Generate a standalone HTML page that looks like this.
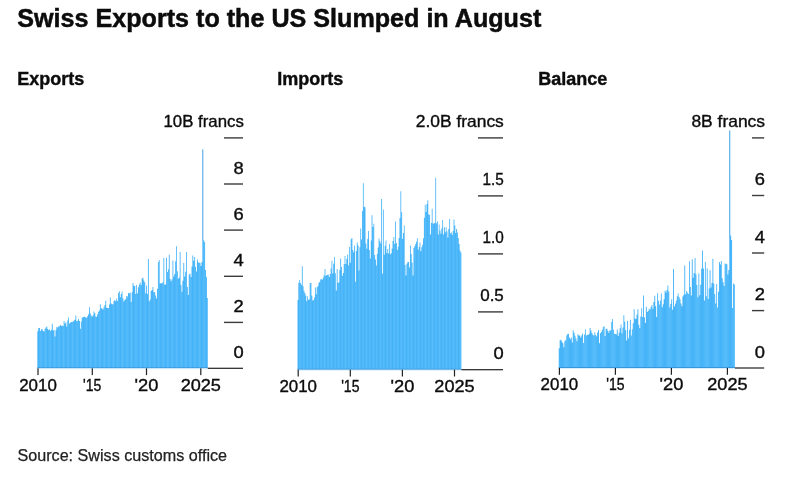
<!DOCTYPE html>
<html lang="en">
<head>
<meta charset="utf-8">
<title>Swiss Exports to the US Slumped in August</title>
<style>
html,body{margin:0;padding:0;background:#fff;}
body{width:795px;height:486px;overflow:hidden;}
svg{display:block;}
text{font-family:"Liberation Sans",Arial,Helvetica,sans-serif;fill:#0c0c0c;}
.h1{font-size:25px;font-weight:700;stroke:#0c0c0c;stroke-width:0.5px;}
.h2{font-size:18px;font-weight:700;stroke:#0c0c0c;stroke-width:0.4px;}
.lb{font-size:15.9px;stroke:#0c0c0c;stroke-width:0.35px;}
.src{font-size:16px;fill:#222;stroke:#222;stroke-width:0.25px;}
</style>
</head>
<body>
<svg width="795" height="486" viewBox="0 0 795 486">
<rect width="795" height="486" fill="#fff"/>
<text class="h1" x="17.3" y="26.8" textLength="524" lengthAdjust="spacingAndGlyphs">Swiss Exports to the US Slumped in August</text>
<g id="c1">
<text class="h2" x="17.3" y="84.6">Exports</text>
<defs><linearGradient id="gc1" gradientUnits="userSpaceOnUse" x1="38.66" y1="0" x2="43.19" y2="0" spreadMethod="repeat"><stop offset="0" stop-color="#44b2f7"/><stop offset="0.5" stop-color="#58bdfb"/><stop offset="1" stop-color="#44b2f7"/></linearGradient></defs>
<path d="M37.30,368.3V331.2H38.21V328.2H39.11V328.0H40.02V331.1H40.93V329.3H41.83V329.3H42.74V331.1H43.65V331.5H44.56V328.7H45.46V327.5H46.37V326.4H47.28V329.0H48.18V330.1H49.09V329.5H50.00V331.0H50.90V329.7H51.81V323.8H52.72V330.6H53.62V330.0H54.53V336.4H55.44V330.3H56.35V327.0H57.25V327.5H58.16V326.2H59.07V326.3H59.97V324.8H60.88V325.9H61.79V325.6H62.69V325.9H63.60V320.9H64.51V323.5H65.41V322.5H66.32V326.5H67.23V320.6H68.14V317.4H69.04V323.6H69.95V322.7H70.86V321.9H71.76V322.1H72.67V321.5H73.58V320.6H74.48V319.7H75.39V315.5H76.30V321.3H77.20V320.8H78.11V319.0H79.02V321.0H79.93V328.8H80.83V321.6H81.74V317.4H82.65V317.3H83.55V316.8H84.46V316.7H85.37V317.6H86.27V317.7H87.18V316.2H88.09V314.3H88.99V307.2H89.90V313.2H90.81V315.6H91.71V316.7H92.62V315.2H93.53V311.6H94.44V313.1H95.34V316.4H96.25V316.7H97.16V314.3H98.06V311.7H98.97V310.2H99.88V304.2H100.78V308.0H101.69V308.8H102.60V309.5H103.50V307.1H104.41V304.9H105.32V300.7H106.23V307.7H107.13V308.0H108.04V307.9H108.95V304.4H109.85V297.5H110.76V303.6H111.67V304.2H112.57V304.3H113.48V301.0H114.39V300.0H115.29V301.2H116.20V298.6H117.11V301.0H118.02V292.9H118.92V291.2H119.83V297.2H120.74V294.1H121.64V291.6H122.55V298.3H123.46V301.4H124.36V299.9H125.27V299.0H126.18V296.1H127.08V296.6H127.99V293.0H128.90V293.5H129.81V292.4H130.71V301.9H131.62V292.2H132.53V283.0H133.43V285.7H134.34V286.1H135.25V294.0H136.15V284.9H137.06V293.3H137.97V287.3H138.87V284.2H139.78V282.5H140.69V284.9H141.60V278.4H142.50V277.8H143.41V280.5H144.32V282.3H145.22V293.2H146.13V285.5H147.04V294.1H147.94V259.0H148.85V301.2H149.76V299.5H150.66V291.0H151.57V289.9H152.48V287.0H153.39V291.9H154.29V292.3H155.20V295.4H156.11V298.5H157.01V288.7H157.92V261.9H158.83V259.9H159.73V283.5H160.64V282.9H161.55V283.6H162.45V282.2H163.36V258.0H164.27V284.7H165.17V284.6H166.08V257.8H166.99V272.0H167.90V269.3H168.80V254.8H169.71V279.0H170.62V281.2H171.52V279.5H172.43V260.4H173.34V276.4H174.24V273.9H175.15V261.3H176.06V246.2H176.96V271.3H177.87V278.8H178.78V277.5H179.69V252.1H180.59V285.1H181.50V291.7H182.41V280.7H183.31V262.9H184.22V276.4H185.13V271.8H186.03V252.0H186.94V286.9H187.85V294.9H188.75V274.5H189.66V273.6H190.57V277.1H191.48V266.6H192.38V255.5H193.29V260.7H194.20V257.1H195.10V266.8H196.01V271.6H196.92V259.5H197.82V262.5H198.73V262.6H199.64V262.9H200.54V265.9H201.45V262.0H202.36V149.4H203.27V240.3H204.17V242.0H205.08V270.0H205.99V277.0H206.89V298.0H207.80V368.3Z" fill="url(#gc1)"/>
<rect x="202.46" y="149.4" width="0.71" height="90.9" fill="#4c94cc" opacity="0.55"/>
<rect x="37.3" y="367.4" width="170.5" height="0.9" fill="#3792d8"/>
<rect x="37.3" y="368.3" width="170.5" height="1" fill="#d9eefc"/>
<rect x="224" y="137.2" width="19.0" height="1.4" fill="#3c3c3c"/>
<text class="lb" x="243.8" y="127.4" text-anchor="end" textLength="80.3" lengthAdjust="spacingAndGlyphs">10B francs</text>
<rect x="224" y="183.3" width="19.0" height="1.4" fill="#3c3c3c"/>
<text class="lb" x="243.8" y="173.5" text-anchor="end" textLength="10.2" lengthAdjust="spacingAndGlyphs">8</text>
<rect x="224" y="229.4" width="19.0" height="1.4" fill="#3c3c3c"/>
<text class="lb" x="243.8" y="219.6" text-anchor="end" textLength="10.2" lengthAdjust="spacingAndGlyphs">6</text>
<rect x="224" y="275.6" width="19.0" height="1.4" fill="#3c3c3c"/>
<text class="lb" x="243.8" y="265.8" text-anchor="end" textLength="10.2" lengthAdjust="spacingAndGlyphs">4</text>
<rect x="224" y="321.7" width="19.0" height="1.4" fill="#3c3c3c"/>
<text class="lb" x="243.8" y="311.9" text-anchor="end" textLength="10.2" lengthAdjust="spacingAndGlyphs">2</text>
<rect x="207.8" y="367.7" width="35.2" height="1.2" fill="#222"/>
<text class="lb" x="243.8" y="358.0" text-anchor="end" textLength="10.2" lengthAdjust="spacingAndGlyphs">0</text>
<rect x="37.4" y="368.3" width="1.2" height="6.8" fill="#222"/>
<text class="lb" x="38.0" y="390.6" text-anchor="middle" textLength="37.6" lengthAdjust="spacingAndGlyphs">2010</text>
<rect x="91.7" y="368.3" width="1.2" height="6.8" fill="#222"/>
<text class="lb" x="92.2" y="390.6" text-anchor="middle" textLength="18.3" lengthAdjust="spacingAndGlyphs">'15</text>
<rect x="145.9" y="368.3" width="1.2" height="6.8" fill="#222"/>
<text class="lb" x="146.5" y="390.6" text-anchor="middle" textLength="23.8" lengthAdjust="spacingAndGlyphs">'20</text>
<rect x="200.2" y="368.3" width="1.2" height="6.8" fill="#222"/>
<text class="lb" x="200.8" y="390.6" text-anchor="middle" textLength="40.3" lengthAdjust="spacingAndGlyphs">2025</text>
</g>
<g id="c2">
<text class="h2" x="277.3" y="84.6">Imports</text>
<defs><linearGradient id="gc2" gradientUnits="userSpaceOnUse" x1="298.55" y1="0" x2="302.03" y2="0" spreadMethod="repeat"><stop offset="0" stop-color="#44b2f7"/><stop offset="0.5" stop-color="#58bdfb"/><stop offset="1" stop-color="#44b2f7"/></linearGradient></defs>
<path d="M297.50,369.7V300.1H298.37V282.8H299.24V280.1H300.12V283.1H300.99V284.7H301.86V266.3H302.73V286.2H303.60V290.7H304.47V293.1H305.35V295.6H306.22V301.3H307.09V296.2H307.96V299.7H308.83V299.4H309.71V282.9H310.58V282.9H311.45V295.5H312.32V300.6H313.19V300.0H314.06V297.6H314.94V287.4H315.81V294.3H316.68V287.3H317.55V286.1H318.42V282.9H319.30V281.8H320.17V279.6H321.04V279.0H321.91V279.8H322.78V277.7H323.65V275.2H324.53V269.1H325.40V276.0H326.27V275.0H327.14V274.7H328.01V274.7H328.89V277.1H329.76V273.9H330.63V268.5H331.50V260.8H332.37V273.4H333.24V263.7H334.12V256.9H334.99V273.2H335.86V290.5H336.73V269.0H337.60V282.9H338.47V282.3H339.35V270.0H340.22V258.5H341.09V266.9H341.96V275.7H342.83V272.9H343.71V263.9H344.58V256.1H345.45V264.1H346.32V258.9H347.19V254.5H348.06V265.6H348.94V246.9H349.81V262.7H350.68V239.2H351.55V238.1H352.42V250.0H353.30V252.2H354.17V245.4H355.04V281.7H355.91V251.0H356.78V242.4H357.65V245.5H358.53V270.4H359.40V247.3H360.27V228.4H361.14V239.5H362.01V211.0H362.89V183.3H363.76V206.8H364.63V207.2H365.50V243.5H366.37V248.7H367.24V239.1H368.12V231.1H368.99V250.1H369.86V258.4H370.73V240.4H371.60V215.3H372.48V226.9H373.35V223.7H374.22V255.0H375.09V259.6H375.96V265.5H376.83V254.1H377.71V247.4H378.58V238.6H379.45V241.0H380.32V243.2H381.19V199.1H382.07V273.7H382.94V209.4H383.81V254.8H384.68V245.7H385.55V240.4H386.42V253.0H387.30V249.1H388.17V253.5H389.04V244.1H389.91V254.2H390.78V253.2H391.66V248.6H392.53V241.0H393.40V237.0H394.27V244.0H395.14V221.6H396.01V243.1H396.89V250.0H397.76V246.7H398.63V238.0H399.50V218.1H400.37V191.3H401.25V212.2H402.12V238.8H402.99V233.1H403.86V225.6H404.73V265.1H405.60V275.4H406.48V263.8H407.35V262.1H408.22V262.1H409.09V267.5H409.96V245.5H410.84V253.9H411.71V262.5H412.58V275.4H413.45V247.9H414.32V245.9H415.19V243.9H416.07V241.7H416.94V238.2H417.81V249.8H418.68V246.9H419.55V242.6H420.42V251.2H421.30V247.3H422.17V244.8H423.04V238.2H423.91V217.8H424.78V204.8H425.66V212.1H426.53V204.1H427.40V200.3H428.27V214.3H429.14V215.0H430.01V234.4H430.89V223.0H431.76V208.7H432.63V223.4H433.50V223.5H434.37V222.9H435.25V177.7H436.12V223.2H436.99V221.5H437.86V234.4H438.73V224.6H439.60V230.6H440.48V233.8H441.35V228.2H442.22V220.0H443.09V234.6H443.96V227.3H444.84V232.5H445.71V227.3H446.58V231.3H447.45V237.5H448.32V229.0H449.19V219.0H450.07V233.3H450.94V232.6H451.81V235.1H452.68V230.9H453.55V219.6H454.43V225.6H455.30V233.0H456.17V229.1H457.04V232.4H457.91V237.9H458.78V244.0H459.66V250.5H460.53V252.4H461.40V369.7Z" fill="url(#gc2)"/>
<rect x="456.27" y="229.1" width="0.67" height="3.3" fill="#4c94cc" opacity="0.55"/>
<rect x="297.5" y="368.8" width="163.9" height="0.9" fill="#3792d8"/>
<rect x="297.5" y="369.7" width="163.9" height="1" fill="#d9eefc"/>
<rect x="478" y="137.2" width="25.0" height="1.4" fill="#3c3c3c"/>
<text class="lb" x="503.8" y="127.4" text-anchor="end" textLength="88" lengthAdjust="spacingAndGlyphs">2.0B francs</text>
<rect x="478" y="195.2" width="25.0" height="1.4" fill="#3c3c3c"/>
<text class="lb" x="503.8" y="185.4" text-anchor="end" textLength="21.3" lengthAdjust="spacingAndGlyphs">1.5</text>
<rect x="478" y="253.2" width="25.0" height="1.4" fill="#3c3c3c"/>
<text class="lb" x="503.8" y="243.4" text-anchor="end" textLength="21.3" lengthAdjust="spacingAndGlyphs">1.0</text>
<rect x="478" y="311.2" width="25.0" height="1.4" fill="#3c3c3c"/>
<text class="lb" x="503.8" y="301.4" text-anchor="end" textLength="23.6" lengthAdjust="spacingAndGlyphs">0.5</text>
<rect x="461.4" y="369.1" width="41.6" height="1.2" fill="#222"/>
<text class="lb" x="503.8" y="358.6" text-anchor="end" textLength="10.2" lengthAdjust="spacingAndGlyphs">0</text>
<rect x="297.6" y="369.7" width="1.2" height="6.8" fill="#222"/>
<text class="lb" x="298.2" y="391.8" text-anchor="middle" textLength="37.6" lengthAdjust="spacingAndGlyphs">2010</text>
<rect x="349.7" y="369.7" width="1.2" height="6.8" fill="#222"/>
<text class="lb" x="350.3" y="391.8" text-anchor="middle" textLength="18.3" lengthAdjust="spacingAndGlyphs">'15</text>
<rect x="401.8" y="369.7" width="1.2" height="6.8" fill="#222"/>
<text class="lb" x="402.4" y="391.8" text-anchor="middle" textLength="23.8" lengthAdjust="spacingAndGlyphs">'20</text>
<rect x="453.9" y="369.7" width="1.2" height="6.8" fill="#222"/>
<text class="lb" x="454.5" y="391.8" text-anchor="middle" textLength="40.3" lengthAdjust="spacingAndGlyphs">2025</text>
</g>
<g id="c3">
<text class="h2" x="538.3" y="84.6">Balance</text>
<defs><linearGradient id="gc3" gradientUnits="userSpaceOnUse" x1="561.51" y1="0" x2="570.88" y2="0" spreadMethod="repeat"><stop offset="0" stop-color="#44b2f7"/><stop offset="0.5" stop-color="#58bdfb"/><stop offset="1" stop-color="#44b2f7"/></linearGradient></defs>
<path d="M558.70,368.0V348.3H559.64V340.2H560.57V339.8H561.51V341.7H562.45V343.3H563.39V347.3H564.32V341.3H565.26V339.7H566.20V335.5H567.14V333.9H568.07V333.8H569.01V337.4H569.95V339.3H570.88V337.5H571.82V342.5H572.76V330.3H573.70V332.8H574.63V335.7H575.57V338.5H576.51V341.3H577.44V334.2H578.38V335.4H579.32V335.5H580.26V337.4H581.19V335.4H582.13V333.6H583.07V343.1H584.01V334.6H584.94V329.5H585.88V335.5H586.82V334.8H587.75V335.1H588.69V333.7H589.63V328.1H590.57V330.5H591.50V333.1H592.44V334.7H593.38V335.6H594.31V332.3H595.25V335.1H596.19V336.2H597.13V332.4H598.06V330.0H599.00V343.2H599.94V333.3H600.88V332.1H601.81V329.8H602.75V327.0H603.69V326.2H604.62V336.1H605.56V328.8H606.50V328.8H607.44V330.9H608.37V332.8H609.31V330.2H610.25V330.4H611.19V322.0H612.12V319.0H613.06V329.7H614.00V333.7H614.93V334.1H615.87V334.3H616.81V329.4H617.75V336.0H618.68V332.6H619.62V328.3H620.56V324.6H621.49V333.2H622.43V327.4H623.37V315.3H624.31V321.8H625.24V330.3H626.18V340.5H627.12V321.1H628.06V338.3H628.99V329.8H629.93V319.8H630.87V335.6H631.80V329.3H632.74V323.3H633.68V309.3H634.62V318.5H635.55V318.9H636.49V314.7H637.43V309.2H638.36V324.8H639.30V327.9H640.24V316.6H641.18V308.2H642.11V317.0H643.05V295.6H643.99V317.3H644.93V323.0H645.86V306.8H646.80V311.9H647.74V310.9H648.67V308.7H649.61V309.4H650.55V306.7H651.49V305.0H652.42V308.8H653.36V301.9H654.30V295.7H655.24V306.3H656.17V317.1H657.11V293.2H658.05V300.8H658.98V304.6H659.92V300.4H660.86V293.6H661.80V307.3H662.73V304.2H663.67V299.2H664.61V290.7H665.54V292.6H666.48V289.9H667.42V285.4H668.36V291.6H669.29V307.2H670.23V304.0H671.17V299.2H672.11V309.7H673.04V269.0H673.98V306.6H674.92V303.7H675.85V300.8H676.79V296.3H677.73V293.6H678.67V297.1H679.60V299.2H680.54V303.5H681.48V306.2H682.41V296.4H683.35V294.7H684.29V265.6H685.23V294.3H686.16V291.1H687.10V292.7H688.04V294.0H688.98V261.2H689.91V286.9H690.85V295.5H691.79V259.5H692.72V277.8H693.66V273.0H694.60V257.9H695.54V274.3H696.47V285.1H697.41V297.3H698.35V273.6H699.29V295.3H700.22V284.8H701.16V268.7H702.10V250.5H703.03V268.4H703.97V300.4H704.91V262.1H705.85V296.3H706.78V268.3H707.72V299.0H708.66V288.5H709.59V270.2H710.53V287.6H711.47V283.0H712.41V258.8H713.34V283.5H714.28V294.1H715.22V303.6H716.16V284.0H717.09V307.6H718.03V291.7H718.97V262.1H719.90V264.5H720.84V261.1H721.78V278.3H722.72V282.3H723.65V286.1H724.59V263.6H725.53V263.8H726.46V264.3H727.40V274.4H728.34V270.0H729.28V130.5H730.21V235.5H731.15V240.0H732.09V308.0H733.03V283.5H733.96V284.5H734.90V368.0Z" fill="url(#gc3)"/>
<rect x="729.38" y="130.5" width="0.74" height="105.0" fill="#4c94cc" opacity="0.55"/>
<rect x="558.7" y="367.1" width="176.2" height="0.9" fill="#3792d8"/>
<rect x="558.7" y="368.0" width="176.2" height="1" fill="#d9eefc"/>
<rect x="752" y="137.2" width="12.2" height="1.4" fill="#3c3c3c"/>
<text class="lb" x="765.0" y="127.4" text-anchor="end" textLength="73.6" lengthAdjust="spacingAndGlyphs">8B francs</text>
<rect x="752" y="194.8" width="12.2" height="1.4" fill="#3c3c3c"/>
<text class="lb" x="765.0" y="185.0" text-anchor="end" textLength="10.2" lengthAdjust="spacingAndGlyphs">6</text>
<rect x="752" y="252.3" width="12.2" height="1.4" fill="#3c3c3c"/>
<text class="lb" x="765.0" y="242.6" text-anchor="end" textLength="10.2" lengthAdjust="spacingAndGlyphs">4</text>
<rect x="752" y="309.9" width="12.2" height="1.4" fill="#3c3c3c"/>
<text class="lb" x="765.0" y="300.1" text-anchor="end" textLength="10.2" lengthAdjust="spacingAndGlyphs">2</text>
<rect x="734.9" y="367.4" width="29.3" height="1.2" fill="#222"/>
<text class="lb" x="765.0" y="357.7" text-anchor="end" textLength="10.2" lengthAdjust="spacingAndGlyphs">0</text>
<rect x="558.8" y="368.0" width="1.2" height="6.8" fill="#222"/>
<text class="lb" x="559.4" y="390.0" text-anchor="middle" textLength="37.6" lengthAdjust="spacingAndGlyphs">2010</text>
<rect x="614.8" y="368.0" width="1.2" height="6.8" fill="#222"/>
<text class="lb" x="615.4" y="390.0" text-anchor="middle" textLength="18.3" lengthAdjust="spacingAndGlyphs">'15</text>
<rect x="670.8" y="368.0" width="1.2" height="6.8" fill="#222"/>
<text class="lb" x="671.4" y="390.0" text-anchor="middle" textLength="23.8" lengthAdjust="spacingAndGlyphs">'20</text>
<rect x="726.8" y="368.0" width="1.2" height="6.8" fill="#222"/>
<text class="lb" x="727.4" y="390.0" text-anchor="middle" textLength="40.3" lengthAdjust="spacingAndGlyphs">2025</text>
</g>
<text class="src" x="17.5" y="460.6" textLength="209.5" lengthAdjust="spacingAndGlyphs">Source: Swiss customs office</text>
</svg>
</body>
</html>
